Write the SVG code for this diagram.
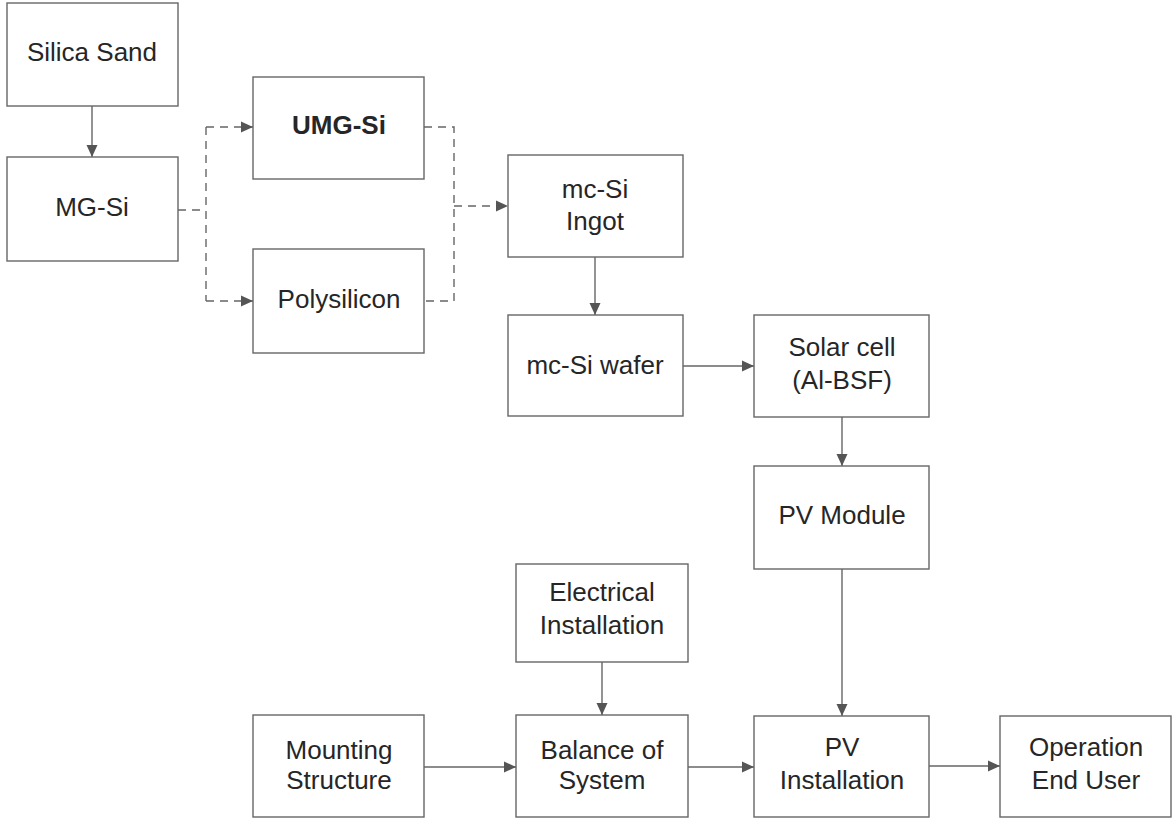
<svg xmlns="http://www.w3.org/2000/svg" width="1172" height="818" viewBox="0 0 1172 818">
<style>
.box{fill:#fff;stroke:#666;stroke-width:1.4}
.t{font-family:"Liberation Sans",Arial,sans-serif;font-size:26px;fill:#262626;text-anchor:middle}
.b{font-weight:bold}
.c{fill:none;stroke:#666;stroke-width:1.4}
.d{stroke-dasharray:8 6}
</style>
<defs>
<marker id="ah" markerUnits="userSpaceOnUse" markerWidth="13" markerHeight="13" refX="12" refY="6.5" orient="auto">
<path d="M0,1 L12,6.5 L0,12 z" fill="#555"/>
</marker>
</defs>
<rect width="1172" height="818" fill="#fff"/>
<g id="connectors">
<path class="c" d="M92,106 V157" marker-end="url(#ah)"/>
<path class="c d" d="M178,210 H206"/>
<path class="c d" d="M206,127 V301"/>
<path class="c d" d="M206,127 H253" marker-end="url(#ah)"/>
<path class="c d" d="M206,301 H253" marker-end="url(#ah)"/>
<path class="c d" d="M424,127 H454 V301 H424"/>
<path class="c d" d="M454,206 H508" marker-end="url(#ah)"/>
<path class="c" d="M595,257 V315" marker-end="url(#ah)"/>
<path class="c" d="M683,366 H754" marker-end="url(#ah)"/>
<path class="c" d="M842,417 V466" marker-end="url(#ah)"/>
<path class="c" d="M842,569 V716" marker-end="url(#ah)"/>
<path class="c" d="M602,662 V715" marker-end="url(#ah)"/>
<path class="c" d="M424,767 H516" marker-end="url(#ah)"/>
<path class="c" d="M688,767 H754" marker-end="url(#ah)"/>
<path class="c" d="M929,766 H1000" marker-end="url(#ah)"/>
</g>
<g id="silica-sand"><rect class="box" x="7" y="3" width="171" height="103"/><text class="t" x="92" y="61">Silica Sand</text></g>
<g id="mg-si"><rect class="box" x="7" y="157" width="171" height="104"/><text class="t" x="92" y="216">MG-Si</text></g>
<g id="umg-si"><rect class="box" x="253" y="77" width="171" height="102"/><text class="t b" x="339" y="134">UMG-Si</text></g>
<g id="polysilicon"><rect class="box" x="253" y="249" width="171" height="104"/><text class="t" x="339" y="308">Polysilicon</text></g>
<g id="mc-si-ingot"><rect class="box" x="508" y="155" width="175" height="102"/><text class="t" x="595" y="198">mc-Si</text><text class="t" x="595" y="230">Ingot</text></g>
<g id="mc-si-wafer"><rect class="box" x="508" y="315" width="175" height="101"/><text class="t" x="595" y="374">mc-Si wafer</text></g>
<g id="solar-cell"><rect class="box" x="754" y="315" width="175" height="102"/><text class="t" x="842" y="356">Solar cell</text><text class="t" x="842" y="389">(Al-BSF)</text></g>
<g id="pv-module"><rect class="box" x="754" y="466" width="175" height="103"/><text class="t" x="842" y="524">PV Module</text></g>
<g id="electrical-installation"><rect class="box" x="516" y="564" width="172" height="98"/><text class="t" x="602" y="601">Electrical</text><text class="t" x="602" y="634">Installation</text></g>
<g id="mounting-structure"><rect class="box" x="253" y="715" width="171" height="102"/><text class="t" x="339" y="759">Mounting</text><text class="t" x="339" y="789">Structure</text></g>
<g id="balance-of-system"><rect class="box" x="516" y="715" width="172" height="102"/><text class="t" x="602" y="759">Balance of</text><text class="t" x="602" y="789">System</text></g>
<g id="pv-installation"><rect class="box" x="754" y="716" width="175" height="101"/><text class="t" x="842" y="756">PV</text><text class="t" x="842" y="789">Installation</text></g>
<g id="operation-end-user"><rect class="box" x="1000" y="716" width="171" height="101"/><text class="t" x="1086" y="756">Operation</text><text class="t" x="1086" y="789">End User</text></g>
</svg>
